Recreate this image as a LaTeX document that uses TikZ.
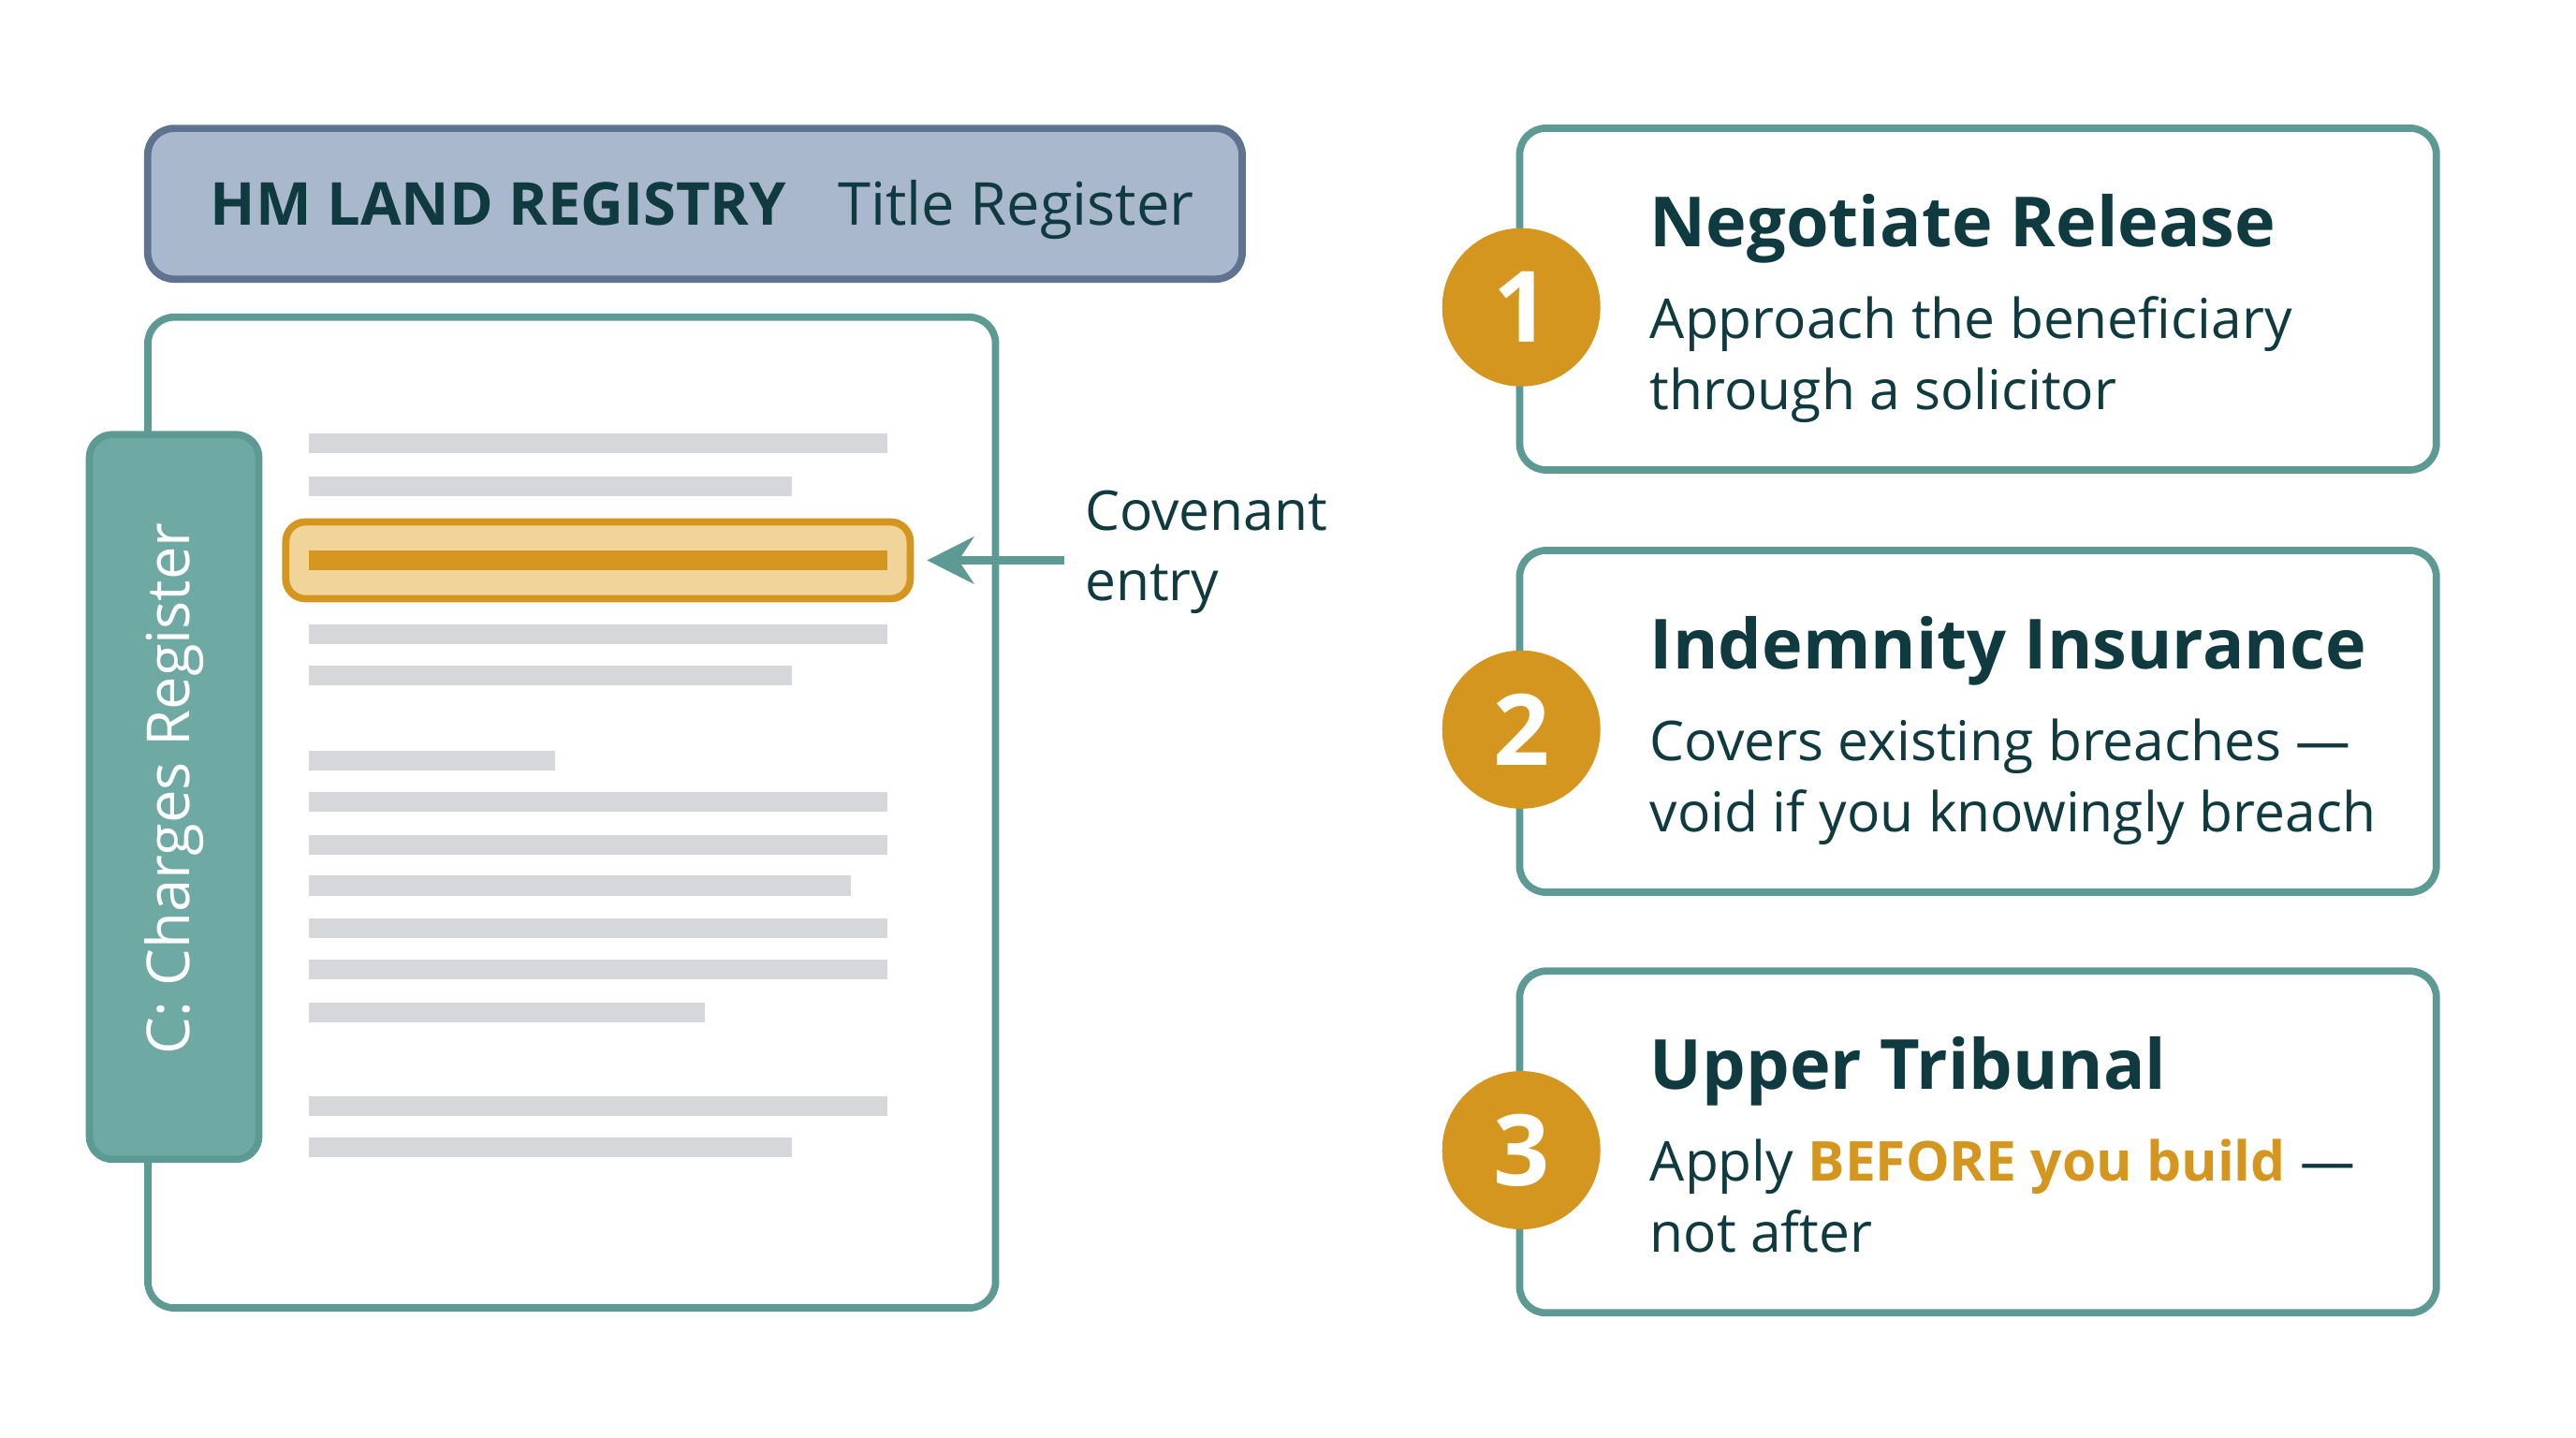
\documentclass[tikz,border=0pt]{standalone}
\usepackage{fontspec}
\setmainfont{Open Sans}
\usetikzlibrary{arrows.meta,positioning}
\definecolor{ink}{HTML}{0F3A40}
\definecolor{teal}{HTML}{5E9A94}
\definecolor{tabfill}{HTML}{6FA9A3}
\definecolor{gold}{HTML}{D4961F}
\definecolor{hlfill}{HTML}{F0D49A}
\definecolor{hdrfill}{HTML}{A9B8CC}
\definecolor{hdrline}{HTML}{5F7390}
\definecolor{rule}{HTML}{D5D7DA}
\tikzset{
  card/.style={draw=teal, line width=2.2pt, rounded corners=8pt, fill=white},
  textline/.style={draw=rule, line width=6pt},
  badge/.style={circle, fill=gold, minimum size=1.69cm, inner sep=0pt,
    text=white, font=\fontsize{30}{30}\selectfont\bfseries},
  title/.style={anchor=base west, inner sep=0pt, text=ink,
    font=\fontsize{21}{26}\selectfont\bfseries},
  body/.style={anchor=base west, inner sep=0pt, text=ink, align=left,
    font=\fontsize{16.7}{21.5}\selectfont},
}
\begin{document}
\begin{tikzpicture}[x=0.01755cm, y=-0.01755cm]
\useasboundingbox (0,0) rectangle (1568,875);
% register header
\node (hdr) [draw=hdrline, fill=hdrfill, line width=2.2pt, rounded corners=8pt,
  minimum width=11.69cm, minimum height=1.61cm] at (423,124) {};
\node [anchor=base west, text=ink, font=\fontsize{18}{20}\selectfont\bfseries]
  at (121,137) {HM LAND REGISTRY};
\node [anchor=base west, text=ink, font=\fontsize{18}{20}\selectfont]
  at (503,137) {Title Register};
% document page
\draw [card] (90,193) rectangle (606,796);
\node (tab) [draw=teal, fill=tabfill, line width=2.2pt, rounded corners=7pt,
  minimum width=1.81cm, minimum height=7.74cm] at (106,485) {};
\node [rotate=90, text=white, font=\fontsize{18}{20}\selectfont] at (106,480)
  {C: Charges Register};
\foreach \y/\x in {270/540, 296/482, 386/540, 411/482, 463/338, 488/540,
  514/540, 539/518, 565/540, 590/540, 616/429, 673/540, 698/482}
  \draw [textline] (188,\y) -- (\x,\y);
\node (hl) [draw=gold, fill=hlfill, line width=2.2pt, rounded corners=6pt,
  minimum width=6.67cm, minimum height=0.82cm] at (364,341) {};
\draw [draw=gold, line width=6pt] (188,341) -- (540,341);
% covenant label
\node (cov) [body, anchor=north west] at (660,298) {Covenant\\entry};
\coordinate (covtail) at (648,341);
\draw [teal, line width=2.5pt, -{Stealth[length=0.5cm,width=0.5cm]},
  shorten >=0.14cm] (covtail) -- (hl.east);
% options
\foreach \n/\y/\t/\a/\b in {
  1/78/Negotiate Release/Approach the beneficiary/through a solicitor,
  2/335/Indemnity Insurance/Covers existing breaches ---/void if you knowingly breach,
  3/591/Upper Tribunal/{Apply \textcolor{gold}{\bfseries BEFORE you build} ---}/not after}{
  \draw [card] (925,\y) rectangle (1483,\y+208);
  \node (badge\n) [badge] at (926,\y+109) {\n};
  \node (title\n) [title] at (1004,\y+72) {\t};
  \node (body\n) [body] at (1004,\y+171) {\a\\\b};
}
\end{tikzpicture}
\end{document}
